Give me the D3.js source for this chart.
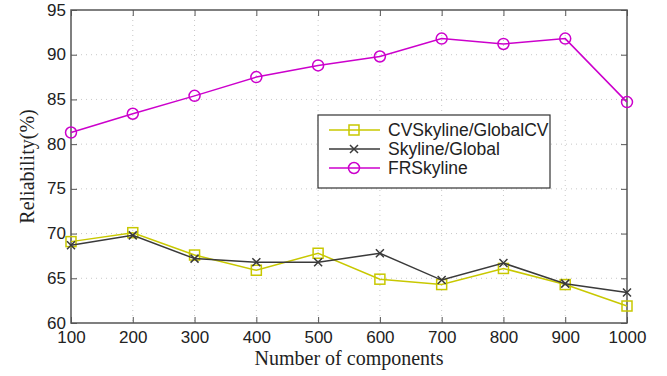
<!DOCTYPE html>
<html>
<head>
<meta charset="utf-8">
<script src="https://cdn.jsdelivr.net/npm/d3@7"></script>
<style>
  body { margin: 0; background: #fff; }
  .tick text { font-family: "Liberation Sans", Arial, sans-serif; font-size: 17px; fill: #222; }
</style>
</head>
<body>
<div id="chart"></div>
<script>
// ---- data ----
var components = [100, 200, 300, 400, 500, 600, 700, 800, 900, 1000];
var cvSkyline = [69.1, 70.1, 67.6, 65.9, 67.8, 64.9, 64.3, 66.1, 64.3, 61.9];
var skyline   = [68.7, 69.8, 67.2, 66.8, 66.8, 67.8, 64.8, 66.7, 64.4, 63.4];
var frSkyline = [81.3, 83.4, 85.4, 87.5, 88.8, 89.8, 91.8, 91.2, 91.8, 84.7];
var yTicks = [60, 65, 70, 75, 80, 85, 90, 95];
var seriesNames = ["CVSkyline/GlobalCV", "Skyline/Global", "FRSkyline"];

var width = 667, height = 376;
var margin = {top: 10, right: 40, bottom: 53, left: 71};

var svg = d3.select("#chart").append("svg")
  .attr("width", width).attr("height", height);

var x = d3.scaleLinear().domain([100, 1000]).range([margin.left, width - margin.right]);
var y = d3.scaleLinear().domain([60, 95]).range([height - margin.bottom, margin.top]);

var pw = width - margin.right - margin.left;
var ph = height - margin.bottom - margin.top;

// grid
var grid = svg.append("g").attr("stroke", "#c8c8c8").attr("stroke-width", 1).attr("stroke-dasharray", "1,4");
grid.selectAll(".gx").data(components.slice(1, -1)).enter().append("line")
  .attr("x1", d => x(d)).attr("x2", d => x(d))
  .attr("y1", margin.top).attr("y2", height - margin.bottom);
grid.selectAll(".gy").data(yTicks.slice(1, -1)).enter().append("line")
  .attr("x1", margin.left).attr("x2", width - margin.right)
  .attr("y1", d => y(d)).attr("y2", d => y(d));

// axes, ticks inward on all four sides
var xAxis = d3.axisBottom(x).tickValues(components).tickSize(-6).tickPadding(8).tickFormat(d3.format("d"));
var yAxis = d3.axisLeft(y).tickValues(yTicks).tickSize(-6).tickPadding(5);
var gx = svg.append("g").attr("transform", "translate(0," + (height - margin.bottom) + ")").call(xAxis);
var gy = svg.append("g").attr("transform", "translate(" + margin.left + ",0)").call(yAxis);
svg.append("g").attr("transform", "translate(0," + margin.top + ")")
  .call(d3.axisTop(x).tickValues(components).tickSize(-6).tickFormat(""));
svg.append("g").attr("transform", "translate(" + (width - margin.right) + ",0)")
  .call(d3.axisRight(y).tickValues(yTicks).tickSize(-6).tickFormat(""));
svg.selectAll(".domain").remove();
svg.selectAll(".tick line").attr("stroke", "#555");
gy.selectAll(".tick text").attr("dy", "0.3em");

svg.append("rect")
  .attr("x", margin.left).attr("y", margin.top)
  .attr("width", pw).attr("height", ph)
  .attr("fill", "none").attr("stroke", "#555").attr("stroke-width", 1.5);

// labels
svg.append("text")
  .attr("x", margin.left + pw / 2).attr("y", 365)
  .attr("text-anchor", "middle")
  .attr("font-family", "Liberation Serif, Times New Roman, serif")
  .attr("font-size", "20px").attr("fill", "#222")
  .text("Number of components");
svg.append("text")
  .attr("transform", "translate(34," + (margin.top + ph / 2) + ") rotate(-90)")
  .attr("text-anchor", "middle")
  .attr("font-family", "Liberation Serif, Times New Roman, serif")
  .attr("font-size", "20px").attr("fill", "#222")
  .text("Reliability(%)");

// series
var series = [
  {name: seriesNames[0], values: cvSkyline, color: "#c8c800", marker: "square"},
  {name: seriesNames[1], values: skyline, color: "#3a3a3a", marker: "cross"},
  {name: seriesNames[2], values: frSkyline, color: "#cc00cc", marker: "circle"}
];

function drawMarker(g, type, cx, cy, color) {
  if (type == "square") {
    g.append("rect").attr("x", cx - 5).attr("y", cy - 5).attr("width", 10).attr("height", 10)
      .attr("fill", "none").attr("stroke", color).attr("stroke-width", 1.5);
  } else if (type == "circle") {
    g.append("circle").attr("cx", cx).attr("cy", cy).attr("r", 5.5)
      .attr("fill", "none").attr("stroke", color).attr("stroke-width", 1.5);
  } else {
    g.append("path").attr("d", "M" + (cx - 4) + "," + (cy - 4) + "L" + (cx + 4) + "," + (cy + 4) +
      "M" + (cx - 4) + "," + (cy + 4) + "L" + (cx + 4) + "," + (cy - 4))
      .attr("stroke", color).attr("stroke-width", 1.5);
  }
}

var line = d3.line().x((d, i) => x(components[i])).y(d => y(d));
series.forEach(function(s) {
  svg.append("path").datum(s.values)
    .attr("d", line).attr("fill", "none")
    .attr("stroke", s.color).attr("stroke-width", 1.5);
  var mg = svg.append("g");
  s.values.forEach(function(v, i) { drawMarker(mg, s.marker, x(components[i]), y(v), s.color); });
});

// legend
var lg = svg.append("g").attr("transform", "translate(318,115)");
lg.append("rect").attr("width", 232).attr("height", 73)
  .attr("fill", "#fff").attr("stroke", "#333").attr("stroke-width", 1.2);
series.forEach(function(s, i) {
  var ly = 15 + i * 19;
  lg.append("line").attr("x1", 11).attr("x2", 62).attr("y1", ly).attr("y2", ly)
    .attr("stroke", s.color).attr("stroke-width", 1.5);
  drawMarker(lg, s.marker, 36, ly, s.color);
  lg.append("text").attr("x", 70).attr("y", ly).attr("dy", "0.35em")
    .attr("font-family", "Liberation Sans, Arial, sans-serif").attr("font-size", "17.5px")
    .attr("fill", "#222").text(s.name);
});
</script>
</body>
</html>
